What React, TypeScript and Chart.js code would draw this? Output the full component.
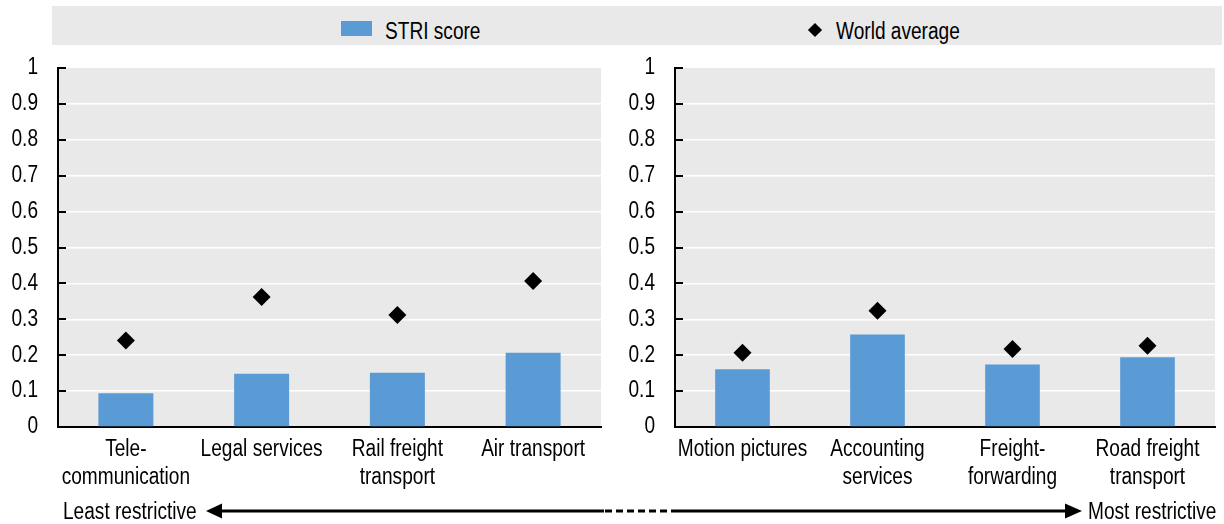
import React, { useEffect, useRef } from "react";
import { Chart, registerables } from "chart.js";

Chart.register(...registerables);

const FONT = '"Liberation Sans Narrow", "Arial Narrow", "Liberation Sans", Arial, sans-serif';
const SX = 0.83; // horizontal squeeze to imitate a narrow face
const FS = 23;

const seriesNames = ["STRI score", "World average"];
const leftCategories: (string | string[])[] = [["Tele-", "communication"], "Legal services", ["Rail freight", "transport"], "Air transport"];
const leftStri = [0.094, 0.148, 0.151, 0.207];
const leftWorld = [0.241, 0.362, 0.312, 0.407];
const rightCategories: (string | string[])[] = ["Motion pictures", ["Accounting", "services"], ["Freight-", "forwarding"], ["Road freight", "transport"]];
const rightStri = [0.161, 0.258, 0.174, 0.194];
const rightWorld = [0.207, 0.324, 0.217, 0.226];
const yTicks = [0, 0.1, 0.2, 0.3, 0.4, 0.5, 0.6, 0.7, 0.8, 0.9, 1];
const arrowLabels = ["Least restrictive", "Most restrictive"];

const BAR_COLOR = "#5b9bd5";
const PANEL_BG = "#e9e9e9";

const narrowTextPlugin = {
  id: "narrowText",
  beforeInit(chart: any) {
    const ctx = chart.ctx;
    if (ctx.__narrow) return;
    const orig = ctx.fillText.bind(ctx);
    ctx.fillText = function (text: string, x: number, y: number, maxWidth?: number) {
      ctx.save();
      ctx.translate(x, y);
      ctx.scale(SX, 1);
      if (maxWidth === undefined) orig(text, 0, 0);
      else orig(text, 0, 0, maxWidth / SX);
      ctx.restore();
    };
    ctx.__narrow = true;
  },
};

const panelPlugin = {
  id: "panelBg",
  beforeDraw(chart: any) {
    const { ctx, chartArea: a } = chart;
    ctx.save();
    ctx.fillStyle = PANEL_BG;
    ctx.fillRect(a.left, a.top, a.right - a.left, a.bottom - a.top);
    ctx.restore();
  },
  afterDraw(chart: any) {
    const { ctx, chartArea: a } = chart;
    const y = chart.scales.y;
    ctx.save();
    ctx.strokeStyle = "#000";
    ctx.lineWidth = 2;
    yTicks.forEach((v) => {
      const py = Math.round(y.getPixelForValue(v));
      ctx.beginPath();
      ctx.moveTo(a.left, py);
      ctx.lineTo(a.left + 8, py);
      ctx.stroke();
    });
    ctx.restore();
  },
};

function makeConfig(labels: (string | string[])[], stri: number[], world: number[], yWidth: number, padRight: number) {
  return {
    type: "bar" as const,
    data: {
      labels,
      datasets: [
        {
          type: "line" as const,
          label: seriesNames[1],
          data: world,
          showLine: false,
          pointStyle: "rectRot",
          pointRadius: 9,
          pointHoverRadius: 9,
          pointBackgroundColor: "#000",
          pointBorderColor: "#000",
          pointBorderWidth: 0,
          borderColor: "#000",
          backgroundColor: "#000",
          order: 0,
        },
        {
          type: "bar" as const,
          label: seriesNames[0],
          data: stri,
          backgroundColor: BAR_COLOR,
          borderWidth: 0,
          barPercentage: 0.405,
          categoryPercentage: 1,
          order: 1,
        },
      ],
    },
    options: {
      responsive: false,
      animation: false as const,
      devicePixelRatio: 1,
      layout: { padding: { top: 18, right: padRight, left: 0, bottom: 0 } },
      plugins: { legend: { display: false }, tooltip: { enabled: false } },
      scales: {
        x: {
          grid: { display: false },
          border: { display: true, color: "#000", width: 2 },
          ticks: {
            color: "#000",
            font: { family: FONT, size: FS, lineHeight: 28 / FS },
            padding: 1,
            maxRotation: 0,
            autoSkip: false,
          },
          afterFit(scale: any) {
            scale.height = 73;
          },
        },
        y: {
          min: 0,
          max: 1,
          afterBuildTicks(scale: any) {
            scale.ticks = yTicks.map((v) => ({ value: v }));
          },
          grid: {
            drawTicks: false,
            color: (c: any) => (c.tick && (c.tick.value === 0 || c.tick.value === 1) ? "rgba(0,0,0,0)" : "#ffffff"),
            lineWidth: 1.5,
          },
          border: { display: true, color: "#000", width: 2 },
          ticks: {
            color: "#000",
            font: { family: FONT, size: FS },
            padding: 20,
            callback: (v: any) => String(Number(Number(v).toFixed(1))),
          },
          afterFit(scale: any) {
            scale.width = yWidth;
            scale.paddingTop = 0;
            scale.paddingBottom = 0;
          },
        },
      },
    },
    plugins: [narrowTextPlugin, panelPlugin],
  };
}

function Panel(props: { labels: (string | string[])[]; stri: number[]; world: number[]; left: number; width: number; yWidth: number; padRight: number }) {
  const ref = useRef<HTMLCanvasElement | null>(null);
  useEffect(() => {
    if (!ref.current) return;
    const chart = new Chart(ref.current, makeConfig(props.labels, props.stri, props.world, props.yWidth, props.padRight) as any);
    return () => chart.destroy();
  }, []);
  return (
    <canvas
      ref={ref}
      width={props.width}
      height={450}
      style={{ position: "absolute", left: props.left, top: 50, width: props.width, height: 450 }}
    />
  );
}

export default function App() {
  const textStyle: React.CSSProperties = {
    position: "absolute",
    fontFamily: FONT,
    fontSize: FS,
    color: "#000",
    whiteSpace: "nowrap",
    lineHeight: "24px",
    transform: `scaleX(${SX})`,
    transformOrigin: "left center",
  };
  return (
    <div style={{ position: "fixed", left: 0, top: 0, width: 1224, height: 524, background: "#fff", overflow: "hidden" }}>
      {/* legend band */}
      <div style={{ position: "absolute", left: 52, top: 6, width: 1170, height: 39, background: PANEL_BG }} />
      <div style={{ position: "absolute", left: 341, top: 21, width: 31, height: 15, background: BAR_COLOR }} />
      <div style={{ ...textStyle, left: 385, top: 19 }}>{seriesNames[0]}</div>
      <div
        style={{
          position: "absolute",
          left: 815 - 5,
          top: 30 - 5,
          width: 10,
          height: 10,
          background: "#000",
          transform: "rotate(45deg)",
        }}
      />
      <div style={{ ...textStyle, left: 836, top: 19 }}>{seriesNames[1]}</div>

      <Panel labels={leftCategories} stri={leftStri} world={leftWorld} left={0} width={610} yWidth={58} padRight={8} />
      <Panel labels={rightCategories} stri={rightStri} world={rightWorld} left={610} width={614} yWidth={65} padRight={6} />

      {/* restrictiveness arrow */}
      <svg width={1224} height={524} style={{ position: "absolute", left: 0, top: 0, pointerEvents: "none" }}>
        <line x1={220} y1={511} x2={604} y2={511} stroke="#000" strokeWidth={3} />
        <line x1={605} y1={511} x2={674} y2={511} stroke="#000" strokeWidth={3} strokeDasharray="7 4" />
        <line x1={674} y1={511} x2={1067} y2={511} stroke="#000" strokeWidth={3} />
        <polygon points="206,511 222,503.5 222,518.5" fill="#000" />
        <polygon points="1082,511 1065,503.5 1065,518.5" fill="#000" />
      </svg>
      <div style={{ ...textStyle, left: 63, top: 499 }}>{arrowLabels[0]}</div>
      <div style={{ ...textStyle, left: 1088, top: 499 }}>{arrowLabels[1]}</div>
    </div>
  );
}
